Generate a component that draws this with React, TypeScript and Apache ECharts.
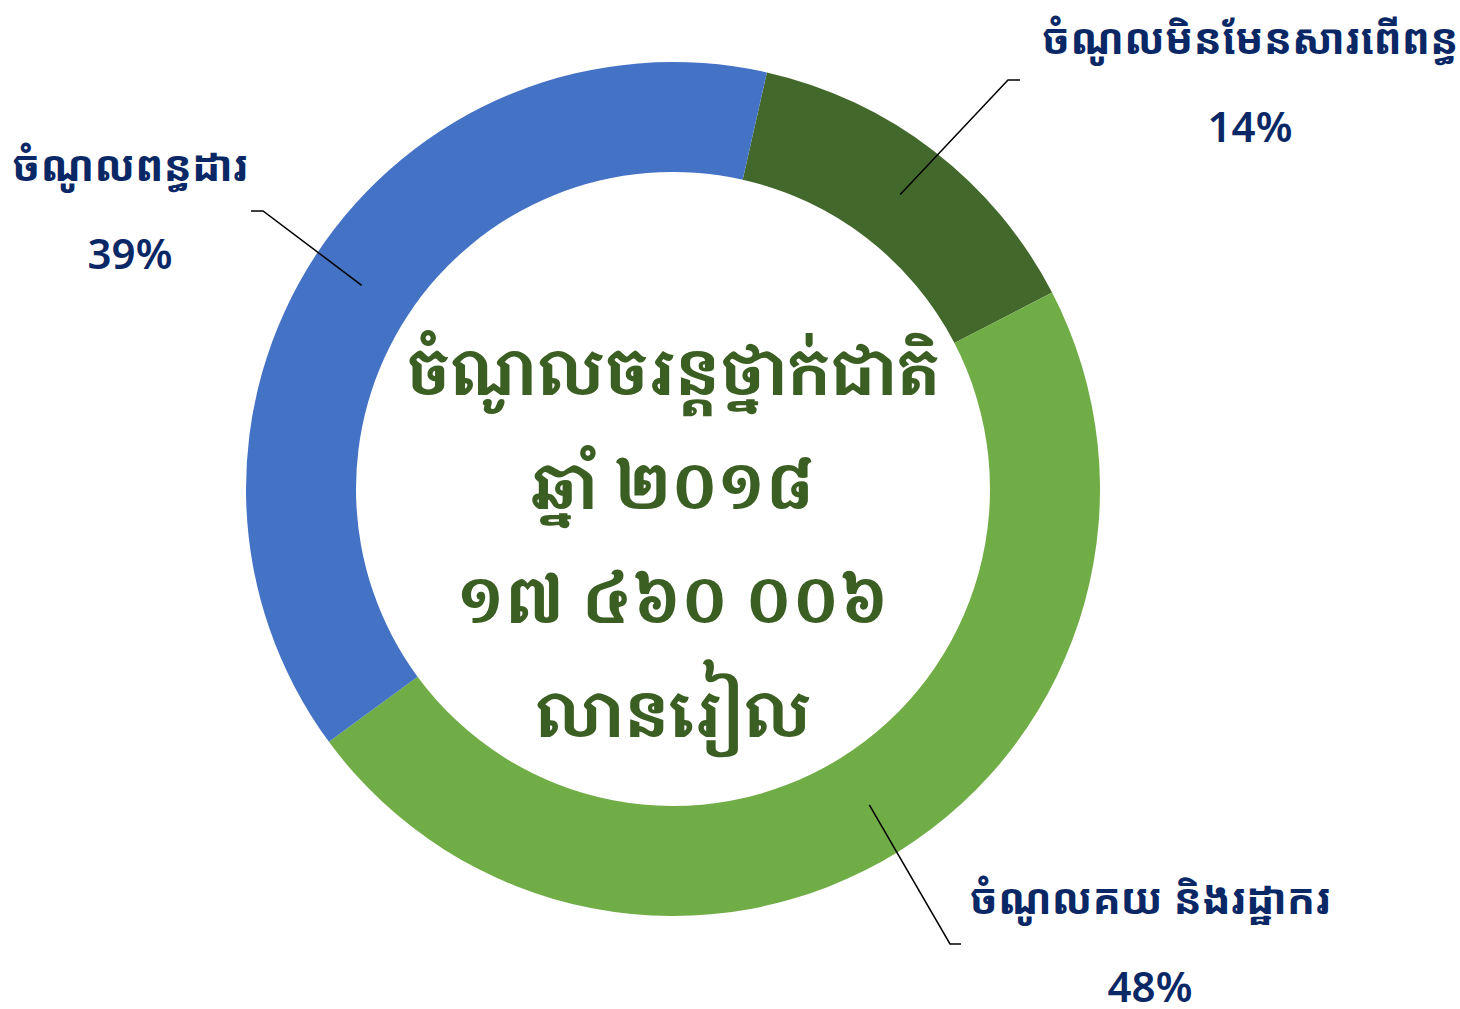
import React, { useEffect, useRef } from "react";
import * as echarts from "echarts";

const categories = ["ចំណូលមិនមែនសារពើពន្ធ", "ចំណូលគយ និងរដ្ឋាករ", "ចំណូលពន្ធដារ"];
const shares = [14, 48, 39];
const sliceColors = ["#43682B", "#70AD47", "#4472C4"];
const centerLines = ["ចំណូលចរន្តថ្នាក់ជាតិ", "ឆ្នាំ ២០១៨", "១៧ ៤៦០ ០០៦", "លានរៀល"];

// label placement (layout, not data): name/percent line heights sum to 176
const labelSpots = [
  { x: 1250, y: 100, nLH: 50, pLH: 126, elbow: [1008, 80], end: [1020, 80] },
  { x: 1150, y: 910, nLH: 150, pLH: 26, elbow: [950, 944], end: [961, 944] },
  { x: 130, y: 227, nLH: 50, pLH: 126, elbow: [263, 211], end: [251, 211] },
];

const CX = 673;
const CY = 489;
const R_IN = 317;
const R_OUT = 427;
const START = 77.3;
const NAVY = "#0B2866";

export default function App() {
  const ref = useRef<HTMLDivElement>(null);
  useEffect(() => {
    document.body.style.margin = "0";
    if (!ref.current) return;
    const chart = echarts.init(ref.current, null, { renderer: "svg" });
    const total = shares.reduce((a, b) => a + b, 0);
    const mids: number[] = [];
    let cum = 0;
    shares.forEach((v) => {
      mids.push(START - ((cum + v / 2) / total) * 360);
      cum += v;
    });
    const rMid = (R_IN + R_OUT) / 2;
    const common = {
      type: "pie",
      center: [CX, CY],
      radius: [R_IN, R_OUT],
      startAngle: START,
      clockwise: true,
      avoidLabelOverlap: false,
      silent: true,
    };
    chart.setOption({
      animation: false,
      backgroundColor: "#ffffff",
      series: [
        {
          ...common,
          z: 2,
          data: categories.map((name, i) => ({
            name,
            value: shares[i],
            itemStyle: { color: sliceColors[i] },
          })),
          itemStyle: { borderWidth: 0 },
          label: { show: false },
          labelLine: { show: false },
        },
        {
          ...common,
          z: 5,
          data: categories.map((name, i) => ({
            name,
            value: shares[i],
            label: {
              rich: {
                n: { lineHeight: labelSpots[i].nLH },
                p: { lineHeight: labelSpots[i].pLH },
              },
            },
          })),
          itemStyle: { color: "rgba(0,0,0,0)", borderWidth: 0 },
          label: {
            show: true,
            position: "outside",
            formatter: "{n|{b}}\n{p|{c}%}",
            rich: {
              n: {
                fontFamily: "'Noto Sans Khmer', 'Khmer OS', 'Noto Sans', sans-serif",
                fontSize: 42,
                fontWeight: "bold",
                color: NAVY,
                align: "center",
              },
              p: {
                fontFamily: "'Noto Sans', 'Liberation Sans', sans-serif",
                fontSize: 42,
                fontWeight: 600,
                color: NAVY,
                align: "center",
              },
            },
          },
          labelLine: {
            show: true,
            lineStyle: { color: "#000000", width: 1.5 },
          },
          labelLayout: (params: any) => {
            const i = params.dataIndex;
            const s = labelSpots[i];
            const a = (mids[i] * Math.PI) / 180;
            const p0 = [CX + rMid * Math.cos(a), CY - rMid * Math.sin(a)];
            return {
              x: s.x,
              y: s.y,
              align: "center",
              verticalAlign: "middle",
              labelLinePoints: [p0, s.elbow, s.end],
            };
          },
        },
      ],
      graphic: [
        {
          type: "text",
          x: CX,
          y: 541,
          z: 10,
          style: {
            text: centerLines.join("\n"),
            fill: "#3B5E23",
            font: "bold 64px 'Khmer OS Muol Light', 'Noto Serif Khmer', 'Noto Sans Khmer', serif",
            lineHeight: 114,
            align: "center",
            verticalAlign: "middle",
          },
        },
      ],
    });
    return () => chart.dispose();
  }, []);
  return <div ref={ref} style={{ width: 1460, height: 1009 }} />;
}
